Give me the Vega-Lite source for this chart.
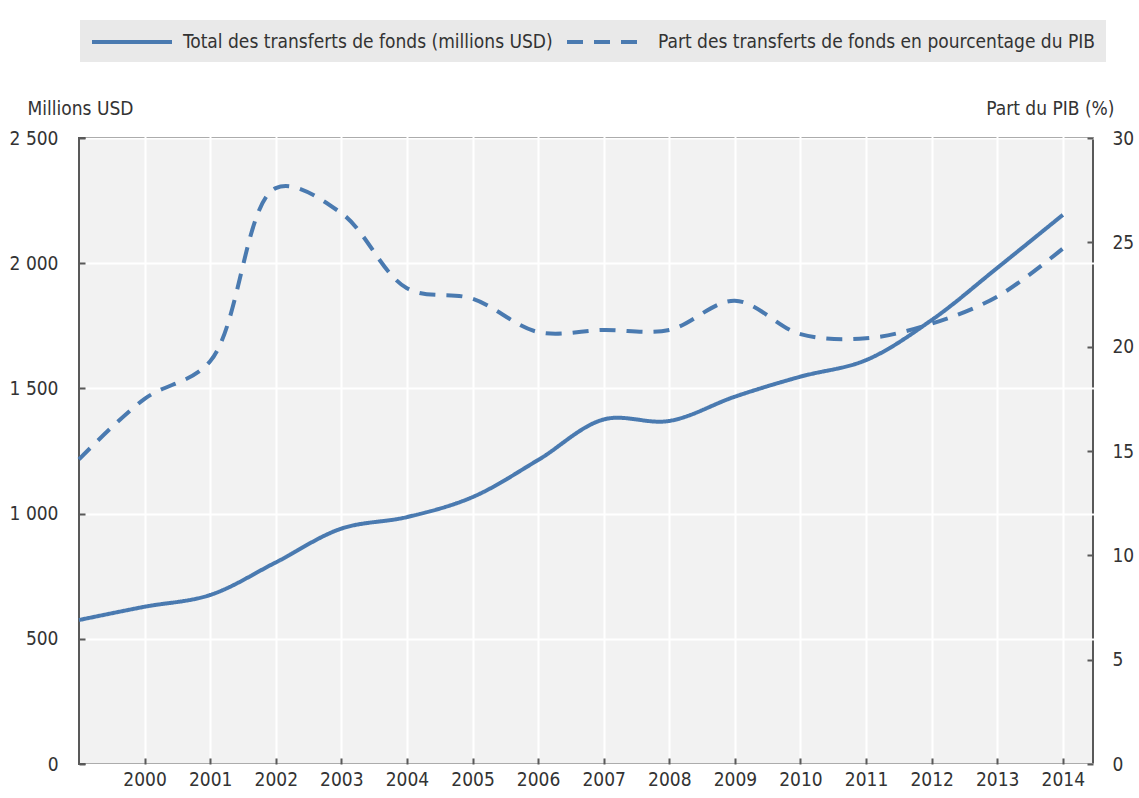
{
  "$schema": "https://vega.github.io/schema/vega-lite/v6.json",
  "width": 1014,
  "height": 626,
  "autosize": {"type": "none"},
  "padding": {"left": 79, "top": 138, "right": 46, "bottom": 34},
  "background": "white",
  "config": {
    "font": "Liberation Sans Narrow, DejaVu Sans Condensed, Liberation Sans, sans-serif",
    "view": {"fill": "#f2f2f2", "stroke": "#595959", "strokeWidth": 2},
    "axis": {
      "labelFont": "Liberation Sans Narrow, DejaVu Sans Condensed, Liberation Sans, sans-serif",
      "labelFontSize": 19,
      "labelColor": "#333333",
      "titleFont": "Liberation Sans Narrow, DejaVu Sans Condensed, Liberation Sans, sans-serif",
      "titleFontSize": 19,
      "titleFontWeight": "normal",
      "titleColor": "#333333",
      "domain": false,
      "tickColor": "#595959",
      "tickWidth": 2,
      "tickSize": 6,
      "offset": -6,
      "gridColor": "#ffffff",
      "gridWidth": 2,
      "gridOpacity": 1,
      "labelFlush": false
    }
  },
  "data": {
    "values": [
      {"year": 1999, "total": 575, "part": 14.6},
      {"year": 2000, "total": 628, "part": 17.5},
      {"year": 2001, "total": 675, "part": 19.3},
      {"year": 2002, "total": 805, "part": 27.6},
      {"year": 2003, "total": 940, "part": 26.4},
      {"year": 2004, "total": 986, "part": 22.8},
      {"year": 2005, "total": 1066, "part": 22.3},
      {"year": 2006, "total": 1214, "part": 20.7},
      {"year": 2007, "total": 1376, "part": 20.8},
      {"year": 2008, "total": 1370, "part": 20.8},
      {"year": 2009, "total": 1467, "part": 22.2},
      {"year": 2010, "total": 1547, "part": 20.6},
      {"year": 2011, "total": 1613, "part": 20.4},
      {"year": 2012, "total": 1773, "part": 21.1},
      {"year": 2013, "total": 1981, "part": 22.4},
      {"year": 2014, "total": 2193, "part": 24.7}
    ]
  },
  "layer": [
    {
      "mark": {"type": "line", "interpolate": "catmull-rom", "strokeWidth": 4, "color": "#4a7ab0"},
      "encoding": {
        "x": {
          "field": "year", "type": "quantitative",
          "scale": {"domain": [1999, 2014.46], "nice": false, "zero": false},
          "axis": {"values": [2000, 2001, 2002, 2003, 2004, 2005, 2006, 2007, 2008, 2009, 2010, 2011, 2012, 2013, 2014], "format": "d", "title": null, "labelPadding": 6, "grid": true}
        },
        "y": {
          "field": "total", "type": "quantitative",
          "scale": {"domain": [0, 2500], "nice": false},
          "axis": {
            "orient": "left",
            "values": [0, 500, 1000, 1500, 2000, 2500],
            "labelExpr": "replace(format(datum.value, ','), ',', ' ')",
            "title": "Millions USD",
            "titleAngle": 0, "titleAlign": "left", "titleBaseline": "middle",
            "titleX": -58, "titleY": -30,
            "labelPadding": 21,
            "grid": true
          }
        },
        "strokeDash": {
          "datum": "Total des transferts de fonds (millions USD)", "type": "nominal",
          "scale": {"domain": ["Total des transferts de fonds (millions USD)", "Part des transferts de fonds en pourcentage du PIB"], "range": [[1, 0], [16, 11]]},
          "legend": {
            "orient": "none", "legendX": 1, "legendY": -118,
            "direction": "horizontal", "title": null,
            "symbolType": "M-4,0H4", "symbolSize": 400, "symbolStrokeWidth": 4, "symbolStrokeColor": "#4a7ab0", "symbolOffset": 30,
            "labelFont": "Liberation Sans Narrow, DejaVu Sans Condensed, Liberation Sans, sans-serif", "labelFontSize": 19, "labelColor": "#333333", "labelLimit": 700,
            "labelOffset": 39, "columnPadding": 6, "padding": 10,
            "fillColor": "#e9e9e9"
          }
        }
      }
    },
    {
      "mark": {"type": "line", "interpolate": "catmull-rom", "strokeWidth": 4, "color": "#4a7ab0"},
      "encoding": {
        "x": {"field": "year", "type": "quantitative"},
        "y": {
          "field": "part", "type": "quantitative",
          "scale": {"domain": [0, 30], "nice": false},
          "axis": {
            "orient": "right",
            "values": [0, 5, 10, 15, 20, 25, 30],
            "title": "Part du PIB (%)",
            "titleAngle": 0, "titleAlign": "right", "titleBaseline": "middle",
            "titleX": 27, "titleY": -30,
            "labelPadding": 19,
            "grid": false
          }
        },
        "strokeDash": {"datum": "Part des transferts de fonds en pourcentage du PIB", "type": "nominal"}
      }
    }
  ],
  "resolve": {"scale": {"y": "independent"}}
}
